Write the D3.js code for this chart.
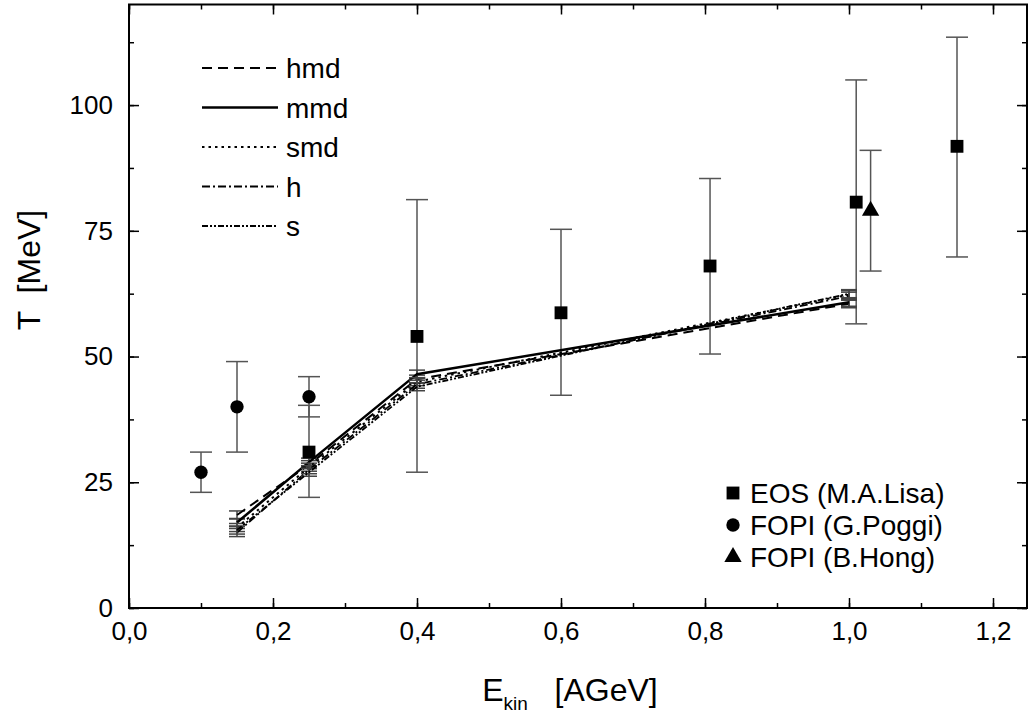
<!DOCTYPE html>
<html>
<head>
<meta charset="utf-8">
<script src="https://cdn.jsdelivr.net/npm/d3@7"></script>
<style>
  body { margin: 0; background: white; }
  svg { display: block; font-family: 'Liberation Sans', Arial, sans-serif; }
</style>
</head>
<body>
<div id="chart"></div>
<script>
// data
var modelX = [0.15, 0.25, 0.4, 1.0]
var hmd = [18.5, 28.5, 45.5, 60.5]
var mmd = [17, 29, 46.5, 60.8]
var smd = [16, 28, 45, 62.3]
var hh = [15, 27.5, 44.5, 62]
var ss = [15.5, 27, 44, 62.5]
var modelErr = 0.8

var eosX = [0.25, 0.4, 0.6, 0.807, 1.01, 1.15]
var eosY = [31, 54, 58.7, 68, 80.7, 91.8]
var eosLo = [22, 27, 42.3, 50.5, 56.5, 69.8]
var eosHi = [40.3, 81.2, 75.3, 85.4, 105, 113.5]

var poggiX = [0.1, 0.15, 0.25]
var poggiY = [27, 40, 42]
var poggiLo = [23, 31, 38]
var poggiHi = [31, 49, 46]

var hongX = [1.03]
var hongY = [79]
var hongLo = [67]
var hongHi = [91]

var xTicks = [0, 0.2, 0.4, 0.6, 0.8, 1.0, 1.2]
var yTicks = [0, 25, 50, 75, 100]

var models = [
  { name: 'hmd', y: hmd, dash: '10,6', w: 2 },
  { name: 'mmd', y: mmd, dash: null, w: 2.5 },
  { name: 'smd', y: smd, dash: '2.5,4', w: 2 },
  { name: 'h', y: hh, dash: '8,3,2,3', w: 1.8 },
  { name: 's', y: ss, dash: '6,2,2,2,2,2', w: 1.8 }
]

var width = 1029
var height = 719

var svg = d3.select('#chart').append('svg')
  .attr('width', width)
  .attr('height', height)

var x = d3.scaleLinear().domain([0, 1.25]).range([129, 1029])
var y = d3.scaleLinear().domain([0, 120]).range([608, 4.5])

// axes, ticks pointing inward
var minorX = d3.range(0, 1.25, 0.1)
var minorY = d3.range(0, 120, 12.5)

svg.append('g')
  .attr('transform', 'translate(0,608)')
  .call(d3.axisBottom(x).tickValues(xTicks).tickSize(-10).tickSizeOuter(0).tickPadding(14)
    .tickFormat(d => d3.format('.1f')(d).replace('.', ',')))
svg.append('g')
  .attr('transform', 'translate(0,608)')
  .call(d3.axisBottom(x).tickValues(minorX).tickSize(-5).tickSizeOuter(0).tickFormat(''))
svg.append('g')
  .attr('transform', 'translate(0,4.5)')
  .call(d3.axisTop(x).tickValues(xTicks).tickSize(-10).tickSizeOuter(0).tickFormat(''))
svg.append('g')
  .attr('transform', 'translate(0,4.5)')
  .call(d3.axisTop(x).tickValues(minorX).tickSize(-5).tickSizeOuter(0).tickFormat(''))

svg.append('g')
  .attr('transform', 'translate(129,0)')
  .call(d3.axisLeft(y).tickValues(yTicks).tickSize(-10).tickSizeOuter(0).tickPadding(16))
svg.append('g')
  .attr('transform', 'translate(129,0)')
  .call(d3.axisLeft(y).tickValues(minorY).tickSize(-5).tickSizeOuter(0).tickFormat(''))
svg.append('g')
  .attr('transform', 'translate(1027,0)')
  .call(d3.axisRight(y).tickValues(yTicks).tickSize(-10).tickSizeOuter(0).tickFormat(''))
svg.append('g')
  .attr('transform', 'translate(1027,0)')
  .call(d3.axisRight(y).tickValues(minorY).tickSize(-5).tickSizeOuter(0).tickFormat(''))

svg.selectAll('.domain').remove()
svg.selectAll('.tick line').attr('stroke', 'black').attr('stroke-width', 1.5)
svg.selectAll('.tick text').attr('font-size', 26).attr('fill', 'black')
  .attr('font-family', "'Liberation Sans', Arial, sans-serif")

// frame
svg.append('rect')
  .attr('x', x(0)).attr('y', y(120))
  .attr('width', 1027 - x(0)).attr('height', y(0) - y(120))
  .attr('fill', 'none')
  .attr('stroke', 'black')
  .attr('stroke-width', 2)

// error bars helper
function errorBars (xs, lo, hi, color, cap) {
  var g = svg.append('g').attr('stroke', color).attr('stroke-width', 1.5)
  xs.forEach((xv, i) => {
    g.append('line')
      .attr('x1', x(xv)).attr('x2', x(xv))
      .attr('y1', y(lo[i])).attr('y2', y(hi[i]))
    g.append('line')
      .attr('x1', x(xv) - cap).attr('x2', x(xv) + cap)
      .attr('y1', y(lo[i])).attr('y2', y(lo[i]))
    g.append('line')
      .attr('x1', x(xv) - cap).attr('x2', x(xv) + cap)
      .attr('y1', y(hi[i])).attr('y2', y(hi[i]))
  })
}

errorBars(eosX, eosLo, eosHi, '#555', 11)
errorBars(poggiX, poggiLo, poggiHi, '#555', 11)
errorBars(hongX, hongLo, hongHi, '#555', 11)

// model curves
var line = d3.line().x((d, i) => x(modelX[i])).y(d => y(d))
models.forEach(m => {
  errorBars(modelX, m.y.map(v => v - modelErr), m.y.map(v => v + modelErr), '#444', 8)
  svg.append('path')
    .attr('d', line(m.y))
    .attr('fill', 'none')
    .attr('stroke', 'black')
    .attr('stroke-width', m.w)
    .attr('stroke-dasharray', m.dash)
})

// markers
var sq = d3.symbol().type(d3.symbolSquare).size(165)
var circ = d3.symbol().type(d3.symbolCircle).size(140)
var tri = d3.symbol().type(d3.symbolTriangle).size(130)

svg.selectAll('.eos').data(eosX).enter().append('path')
  .attr('d', sq)
  .attr('transform', (d, i) => 'translate(' + x(d) + ',' + y(eosY[i]) + ')')
svg.selectAll('.poggi').data(poggiX).enter().append('path')
  .attr('d', circ)
  .attr('transform', (d, i) => 'translate(' + x(d) + ',' + y(poggiY[i]) + ')')
svg.selectAll('.hong').data(hongX).enter().append('path')
  .attr('d', tri)
  .attr('transform', (d, i) => 'translate(' + x(d) + ',' + y(hongY[i]) + ')')

// line legend, top left
models.forEach((m, i) => {
  var ly = 68 + i * 39.5
  svg.append('line')
    .attr('x1', 202).attr('x2', 278)
    .attr('y1', ly).attr('y2', ly)
    .attr('stroke', 'black')
    .attr('stroke-width', m.w)
    .attr('stroke-dasharray', m.dash)
  svg.append('text')
    .attr('x', 286).attr('y', ly + 10)
    .attr('font-size', 28)
    .text(m.name)
})

// marker legend, bottom right
var markerLegend = [
  { sym: sq, label: 'EOS (M.A.Lisa)' },
  { sym: circ, label: 'FOPI (G.Poggi)' },
  { sym: tri, label: 'FOPI (B.Hong)' }
]
markerLegend.forEach((m, i) => {
  var ly = 493 + i * 32
  svg.append('path').attr('d', m.sym).attr('transform', 'translate(733,' + ly + ')')
  svg.append('text')
    .attr('x', 750).attr('y', ly + 10)
    .attr('font-size', 28)
    .text(m.label)
})

// axis titles
svg.append('text')
  .attr('transform', 'translate(40,270) rotate(-90)')
  .attr('text-anchor', 'middle')
  .attr('font-size', 32)
  .attr('xml:space', 'preserve')
  .text('T  [MeV]')

var xt = svg.append('text')
  .attr('x', 570).attr('y', 701)
  .attr('text-anchor', 'middle')
  .attr('font-size', 32)
  .attr('xml:space', 'preserve')
xt.append('tspan').text('E')
xt.append('tspan').attr('font-size', 19).attr('dy', 9).text('kin')
xt.append('tspan').attr('dy', -9).text('   [AGeV]')
</script>
</body>
</html>
